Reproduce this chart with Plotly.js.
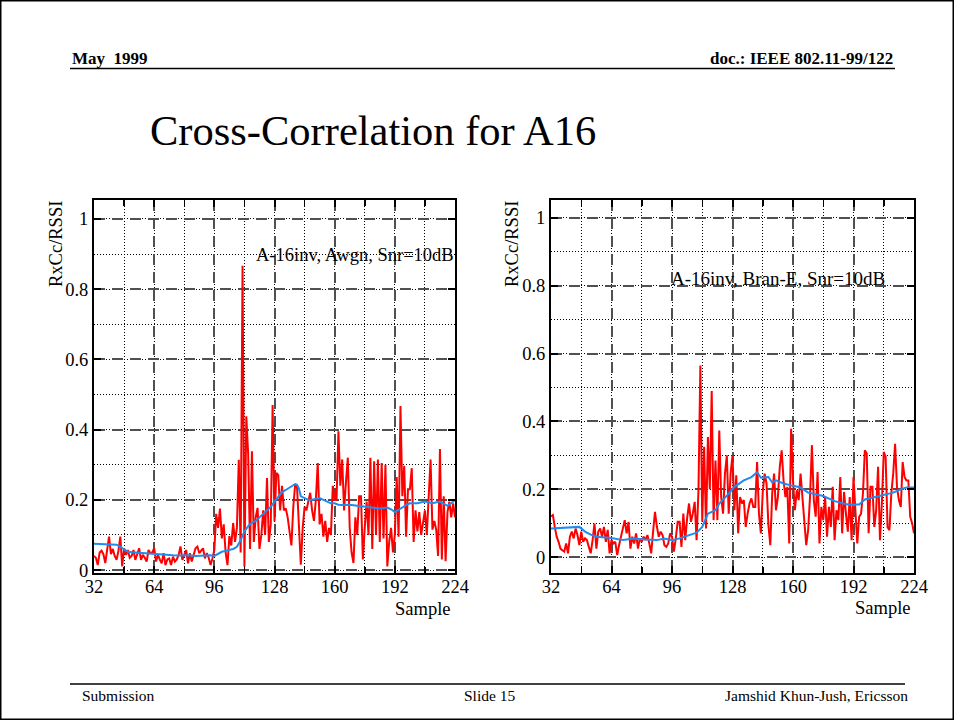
<!DOCTYPE html>
<html>
<head>
<meta charset="utf-8">
<script src="https://cdn.plot.ly/plotly-3.0.1.min.js"></script>
<style>
html, body { margin: 0; padding: 0; background: #fff; }
#chart { width: 954px; height: 720px; }
</style>
</head>
<body>
<div id="chart"></div>
<script>
// Sample index range (x axis of both panels)
const sampleStart = 32;
const sampleEnd = 224;
const samples = [];
for (let s = sampleStart; s <= sampleEnd; s++) samples.push(s);

// Left panel: A-16inv, Awgn, Snr=10dB  (red = raw cross-correlation, one value per sample 32..224)
const awgnRaw = [
  0.04, 0.035, 0.014, 0.05, 0.055, 0.045, 0.02, 0.06, 0.095, 0.045,
  0.06, 0.04, 0.029, 0.055, 0.095, 0.01, 0.062, 0.043, 0.057, 0.035,
  0.04, 0.057, 0.029, 0.045, 0.062, 0.029, 0.043, 0.035, 0.024, 0.057,
  0.048, 0.05, 0.062, 0.024, 0.043, 0.03, 0.019, 0.048, 0.014, 0.03,
  0.033, 0.014, 0.038, 0.024, 0.03, 0.043, 0.067, 0.029, 0.045, 0.057,
  0.019, 0.048, 0.024, 0.04, 0.062, 0.067, 0.048, 0.055, 0.062, 0.033,
  0.048, 0.035, 0.014, 0.033, 0.057, 0.16, 0.12, 0.175, 0.09, 0.13,
  0.05, 0.014, 0.097, 0.07, 0.134, 0.08, 0.12, 0.314, 0.05, 0.867,
  0.01, 0.438, 0.33, 0.06, 0.338, 0.08, 0.15, 0.177, 0.06, 0.10,
  0.17, 0.10, 0.262, 0.08, 0.13, 0.47, 0.138, 0.277, 0.27, 0.17,
  0.24, 0.17, 0.175, 0.15, 0.10, 0.07, 0.18, 0.245, 0.235, 0.14,
  0.015, 0.12, 0.18, 0.17, 0.2, 0.22, 0.17, 0.14, 0.2, 0.305,
  0.13, 0.16, 0.095, 0.14, 0.08, 0.12, 0.1, 0.24, 0.2, 0.2,
  0.395, 0.24, 0.315, 0.17, 0.25, 0.32, 0.12, 0.05, 0.02, 0.15,
  0.1, 0.21, 0.21, 0.03, 0.12, 0.195, 0.1, 0.32, 0.06, 0.31,
  0.1, 0.315, 0.08, 0.305, 0.09, 0.3, 0.01, 0.08, 0.12, 0.05,
  0.1, 0.265, 0.095, 0.467, 0.21, 0.297, 0.095, 0.23, 0.23, 0.29,
  0.08, 0.17, 0.11, 0.165, 0.1, 0.13, 0.17, 0.1, 0.2, 0.315,
  0.115, 0.14, 0.115, 0.04, 0.345, 0.03, 0.21, 0.025, 0.165, 0.195,
  0.15, 0.19, 0.15
];
// Left panel smoothed curve (blue)
const awgnSmoothX = [32, 36, 40, 44, 46, 48, 50, 54, 58, 62, 66, 70, 74, 78, 82, 86, 90, 94, 96, 98,
  100, 103, 106, 108, 110, 112, 114, 116, 118, 120, 122, 124, 126, 128, 130, 132, 134, 136, 138, 139,
  140, 141, 142, 144, 146, 148, 150, 152, 154, 156, 158, 160, 162, 164, 168, 172, 176, 180, 184, 188,
  190, 192, 194, 196, 198, 200, 204, 208, 212, 216, 218, 220, 222, 224];
const awgnSmooth = [0.075, 0.074, 0.073, 0.072, 0.066, 0.058, 0.052, 0.05, 0.048, 0.046, 0.045, 0.043, 0.042, 0.041, 0.042, 0.04, 0.042, 0.042, 0.04, 0.045,
  0.052, 0.056, 0.06, 0.066, 0.085, 0.11, 0.125, 0.135, 0.14, 0.15, 0.16, 0.17, 0.18, 0.195, 0.21, 0.222, 0.228, 0.235, 0.24, 0.245,
  0.243, 0.232, 0.21, 0.205, 0.2, 0.2, 0.202, 0.205, 0.2, 0.195, 0.19, 0.19, 0.186, 0.185, 0.186, 0.183, 0.18, 0.177, 0.175, 0.178,
  0.173, 0.165, 0.172, 0.18, 0.185, 0.19, 0.19, 0.195, 0.19, 0.195, 0.19, 0.183, 0.19, 0.2];

// Right panel: A-16inv, Bran-E, Snr=10dB
const branRaw = [
  0.12, 0.124, 0.089, 0.06, 0.045, 0.025, 0.02, 0.016, 0.04, 0.011,
  0.06, 0.075, 0.055, 0.084, 0.065, 0.035, 0.075, 0.045, 0.055, 0.05,
  0.03, 0.011, 0.05, 0.099, 0.025, 0.075, 0.084, 0.06, 0.089, 0.045,
  0.08, 0.011, 0.05, 0.04, 0.045, 0.006, 0.035, 0.06, 0.079, 0.109,
  0.07, 0.104, 0.025, 0.06, 0.04, 0.07, 0.025, 0.055, 0.045, 0.06,
  0.05, 0.065, 0.04, 0.011, 0.075, 0.133, 0.09, 0.06, 0.075, 0.065,
  0.035, 0.03, 0.04, 0.07, 0.06, 0.016, 0.055, 0.104, 0.104, 0.03,
  0.128, 0.05, 0.115, 0.158, 0.104, 0.128, 0.163, 0.05, 0.197, 0.565,
  0.104, 0.325, 0.084, 0.354, 0.2, 0.49, 0.109, 0.285, 0.109, 0.373,
  0.177, 0.128, 0.246, 0.3, 0.128, 0.246, 0.3, 0.138, 0.241, 0.07,
  0.177, 0.158, 0.168, 0.089, 0.128, 0.158, 0.173, 0.148, 0.148, 0.28,
  0.128, 0.07, 0.192, 0.246, 0.217, 0.094, 0.035, 0.187, 0.246, 0.138,
  0.177, 0.266, 0.315, 0.226, 0.177, 0.207, 0.04, 0.378, 0.226, 0.138,
  0.197, 0.168, 0.246, 0.177, 0.128, 0.035, 0.079, 0.177, 0.33, 0.168,
  0.119, 0.251, 0.04, 0.148, 0.109, 0.177, 0.06, 0.148, 0.089, 0.207,
  0.05, 0.138, 0.109, 0.236, 0.07, 0.192, 0.128, 0.075, 0.177, 0.05,
  0.236, 0.119, 0.04, 0.119, 0.128, 0.187, 0.315, 0.305, 0.07, 0.207,
  0.207, 0.089, 0.138, 0.266, 0.05, 0.158, 0.31, 0.295, 0.089, 0.079,
  0.187, 0.246, 0.334, 0.207, 0.168, 0.148, 0.28, 0.236, 0.226, 0.226,
  0.119, 0.1, 0.07
];
const branSmoothX = [32, 36, 40, 44, 47, 50, 53, 56, 60, 64, 70, 76, 82, 88, 92, 96, 100, 103, 106, 109,
  112, 115, 119, 121, 126, 129, 134, 138, 141, 143, 147, 149, 151, 155, 160, 164, 168, 172, 176, 182,
  186, 189, 192, 195, 198, 202, 206, 210, 213, 217, 220, 224];
const branSmooth = [0.084, 0.085, 0.086, 0.088, 0.089, 0.075, 0.066, 0.06, 0.058, 0.056, 0.05, 0.055, 0.052, 0.05, 0.055, 0.05, 0.055, 0.06, 0.065, 0.072,
  0.089, 0.128, 0.138, 0.158, 0.187, 0.207, 0.226, 0.236, 0.25, 0.234, 0.236, 0.22, 0.226, 0.217, 0.21, 0.205, 0.19, 0.185, 0.18, 0.165,
  0.16, 0.155, 0.155, 0.155, 0.17, 0.175, 0.18, 0.185, 0.19, 0.2, 0.205, 0.205];

const panelLabels = ['A-16inv, Awgn, Snr=10dB', 'A-16inv, Bran-E, Snr=10dB'];
const yLabel = 'RxCc/RSSI';
const xLabel = 'Sample';
const xTickVals = [32, 64, 96, 128, 160, 192, 224];
const yTickVals = [0, 0.2, 0.4, 0.6, 0.8, 1];

const RED = '#ff0000';
const BLUE = '#1e8cf0';
const SERIF = 'Liberation Serif, Times New Roman, serif';

const traces = [
  {x: samples, y: awgnRaw, xaxis: 'x', yaxis: 'y', mode: 'lines', line: {color: RED, width: 2}, hoverinfo: 'skip'},
  {x: awgnSmoothX, y: awgnSmooth, xaxis: 'x', yaxis: 'y', mode: 'lines', line: {color: BLUE, width: 2}, hoverinfo: 'skip'},
  {x: samples, y: branRaw, xaxis: 'x2', yaxis: 'y2', mode: 'lines', line: {color: RED, width: 2}, hoverinfo: 'skip'},
  {x: branSmoothX, y: branSmooth, xaxis: 'x2', yaxis: 'y2', mode: 'lines', line: {color: BLUE, width: 2}, hoverinfo: 'skip'}
];

function xAxis(domain, anchor) {
  return {
    domain: domain, anchor: anchor, range: [sampleStart, sampleEnd],
    tickmode: 'array', tickvals: xTickVals, ticktext: xTickVals.map(String),
    ticks: 'inside', ticklen: 7, tickwidth: 2, tickcolor: '#000',
    showline: true, linewidth: 2, linecolor: '#000', mirror: 'allticks',
    showgrid: true, gridcolor: '#505050', gridwidth: 2, griddash: '11px,7px',
    minor: {dtick: 16, tick0: 0, ticks: 'inside', ticklen: 6, tickwidth: 1.5, tickcolor: '#000',
            showgrid: true, gridcolor: '#000', gridwidth: 1, griddash: '1px,2px'},
    zeroline: false, tickfont: {family: SERIF, size: 18.5, color: '#000'},
    ticklabelstandoff: -4, fixedrange: true
  };
}
function yAxis(domain, anchor, range) {
  return {
    domain: domain, anchor: anchor, range: range,
    tickmode: 'array', tickvals: yTickVals, ticktext: yTickVals.map(String),
    ticks: 'inside', ticklen: 7, tickwidth: 2, tickcolor: '#000',
    showline: true, linewidth: 2, linecolor: '#000', mirror: 'allticks',
    showgrid: true, gridcolor: '#505050', gridwidth: 2, griddash: '11px,7px',
    minor: {dtick: 0.1, tick0: 0, ticks: '', showgrid: true, gridcolor: '#000', gridwidth: 1, griddash: '1px,2px'},
    zeroline: false, tickfont: {family: SERIF, size: 18.5, color: '#000'}, fixedrange: true
  };
}

const W = 954, H = 720;
const px = v => v / W;
const py = v => 1 - v / H;

function txt(text, x, y, size, xanchor, extra) {
  return Object.assign({text: text, x: px(x), y: py(y), xref: 'paper', yref: 'paper',
    xanchor: xanchor, yanchor: 'middle', showarrow: false,
    font: {family: SERIF, size: size, color: '#000'}}, extra || {});
}

const layout = {
  width: W, height: H,
  margin: {l: 0, r: 0, t: 0, b: 0, pad: 0},
  paper_bgcolor: '#fff', plot_bgcolor: '#fff',
  showlegend: false,
  xaxis: xAxis([px(94), px(455)], 'y'),
  yaxis: yAxis([py(573), py(200)], 'x', [-0.0085, 1.054]),
  xaxis2: xAxis([px(551), px(914)], 'y2'),
  yaxis2: yAxis([py(573), py(200)], 'x2', [-0.047, 1.053]),
  annotations: [
    txt('<b>May\u00a0\u00a01999</b>', 70, 58, 17, 'left'),
    txt('<b>doc.: IEEE 802.11-99/122</b>', 895, 58, 17, 'right'),
    txt('Cross-Correlation for A16', 148, 130, 42.5, 'left'),
    txt(yLabel, 56, 244, 18.5, 'center', {textangle: -90}),
    txt(yLabel, 512, 244, 18.5, 'center', {textangle: -90}),
    txt(xLabel, 423, 609, 18.5, 'center'),
    txt(xLabel, 883, 608, 18.5, 'center'),
    txt(panelLabels[0], 456, 255, 18.5, 'right'),
    txt(panelLabels[1], 669, 279, 19, 'left'),
    txt('Submission', 80, 695, 15.5, 'left'),
    txt('Slide 15', 490, 695, 15.5, 'center'),
    txt('Jamshid Khun-Jush, Ericsson', 910, 695, 15.5, 'right')
  ],
  shapes: [
    {type: 'rect', xref: 'paper', yref: 'paper', x0: 0, x1: 1, y0: 0, y1: 1, line: {color: '#000', width: 3}},
    {type: 'line', xref: 'paper', yref: 'paper', x0: px(70), x1: px(895), y0: py(68.5), y1: py(68.5), line: {color: '#000', width: 1.5}},
    {type: 'line', xref: 'paper', yref: 'paper', x0: px(70), x1: px(905), y0: py(684), y1: py(684), line: {color: '#000', width: 1.5}}
  ]
};

Plotly.newPlot('chart', traces, layout, {staticPlot: true, displayModeBar: false});
</script>
</body>
</html>
